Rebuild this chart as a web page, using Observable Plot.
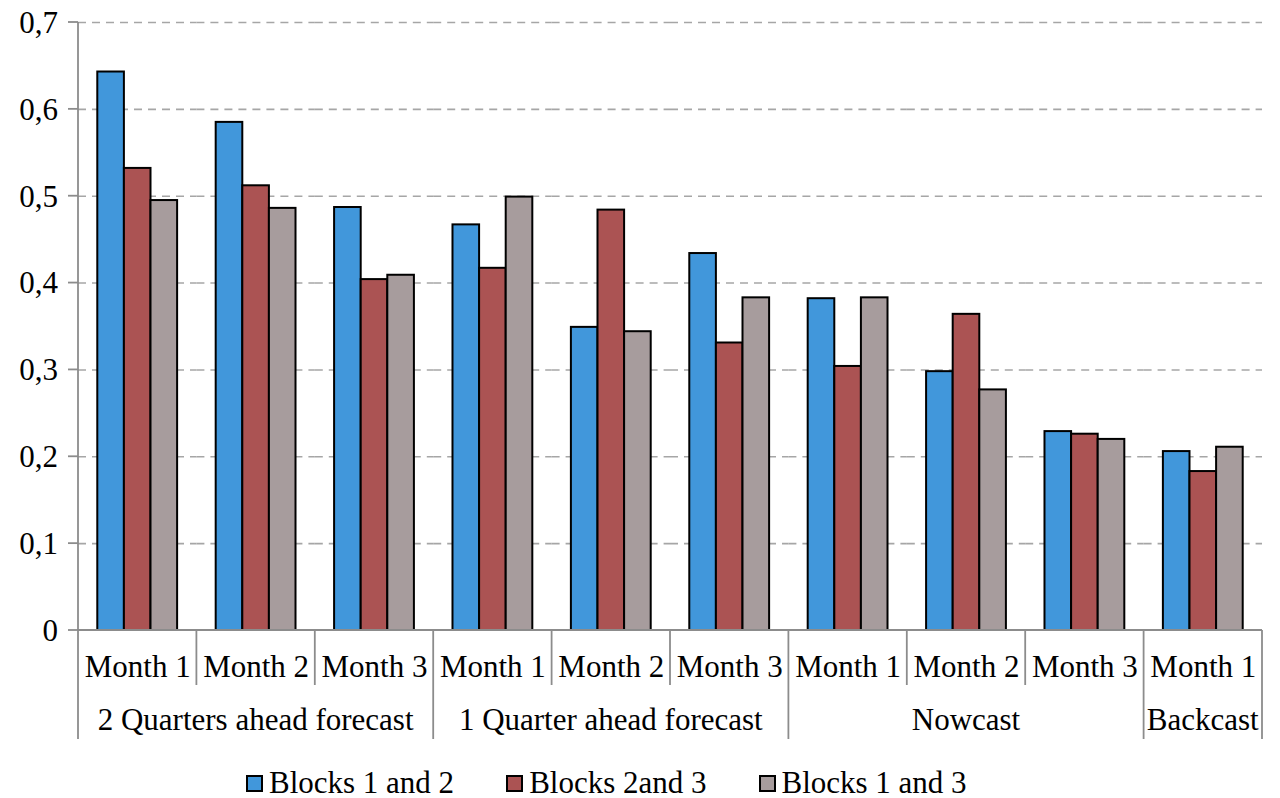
<!DOCTYPE html>
<html><head><meta charset="utf-8">
<script src="https://cdn.jsdelivr.net/npm/d3@7"></script>
<script src="https://cdn.jsdelivr.net/npm/@observablehq/plot@0.6"></script>
<style>
html,body{margin:0;padding:0;background:#fff;}
body{font-family:"Liberation Serif",serif;position:relative;width:1280px;height:798px;overflow:hidden;}
#legend{position:absolute;left:246px;top:766px;display:flex;align-items:center;font-size:31px;color:#000;line-height:34px;}
.item{display:flex;align-items:center;margin-right:52px;}
.sw{width:13px;height:13px;border:2px solid #000;margin-right:6px;}
</style></head><body>
<div id="chart"></div>
<div id="legend"></div>
<script>
const groups = ["2 Quarters ahead forecast","2 Quarters ahead forecast","2 Quarters ahead forecast",
  "1 Quarter ahead forecast","1 Quarter ahead forecast","1 Quarter ahead forecast",
  "Nowcast","Nowcast","Nowcast","Backcast"];
const months = ["Month 1","Month 2","Month 3","Month 1","Month 2","Month 3","Month 1","Month 2","Month 3","Month 1"];
const series = ["Blocks 1 and 2","Blocks 2and 3","Blocks 1 and 3"];
const blocks12 = [0.643,0.585,0.487,0.467,0.349,0.434,0.382,0.298,0.229,0.206];
const blocks23 = [0.532,0.512,0.404,0.417,0.484,0.331,0.304,0.364,0.226,0.183];
const blocks13 = [0.495,0.486,0.409,0.499,0.344,0.383,0.383,0.277,0.220,0.211];
const yTicks = [0,0.1,0.2,0.3,0.4,0.5,0.6,0.7];
const colors = ["#4197db","#ab5353","#a79c9d"];

const slots = months.map((m,i)=>i);
const seriesValues = [blocks12, blocks23, blocks13];
const rows = [];
slots.forEach(i => series.forEach((s,k) => rows.push({slot:i, group:groups[i], month:months[i], series:s, value:seriesValues[k][i]})));
const fmt = d => d === 0 ? "0" : d.toFixed(1).replace(".", ",");

const chart = Plot.plot({
  width:1280, height:762,
  marginLeft:78, marginRight:18, marginTop:22, marginBottom:132,
  style:{fontFamily:"Liberation Serif, serif", fontSize:"31px", color:"#000", background:"#fff", overflow:"visible"},
  fx:{domain:slots, paddingInner:0, paddingOuter:0, round:false, axis:null, label:null},
  x:{domain:series, paddingInner:0, paddingOuter:0.725, round:false, axis:null, label:null},
  y:{domain:[0,0.7], axis:null, label:null},
  color:{domain:series, range:colors},
  marks:[
    Plot.ruleY(yTicks.filter(d=>d>0), {stroke:"#a6a6a6", strokeWidth:1.6, strokeDasharray:"8,6"}),
    Plot.barY(rows, {fx:"slot", x:"series", y:"value", fill:"series", stroke:"#000", strokeWidth:2}),
    Plot.text(slots, {fx:d=>d, text:d=>months[d], frameAnchor:"bottom", lineAnchor:"middle", dy:37, fontSize:31, fill:"#000"})
  ]
});
document.getElementById("chart").appendChild(chart);

// axes, separators and group labels placed with the plot's own scales
const svg = d3.select(chart);
const fx = chart.scale("fx"), y = chart.scale("y");
const bw = fx.bandwidth;
const y0 = y.apply(0), yTop = y.apply(0.7);
const left = fx.apply(slots[0]), right = fx.apply(slots[slots.length-1]) + bw;
const g = svg.append("g").attr("stroke","#8c8c8c").attr("stroke-width",1.8);
g.append("line").attr("x1",left).attr("x2",left).attr("y1",yTop).attr("y2",y0);
yTicks.forEach(t => g.append("line").attr("x1",left-10).attr("x2",left).attr("y1",y.apply(t)).attr("y2",y.apply(t)));
g.append("line").attr("x1",left).attr("x2",right).attr("y1",y0).attr("y2",y0);
const yt = svg.append("g").attr("font-family","Liberation Serif, serif").attr("font-size",31).attr("text-anchor","end").attr("fill","#000");
yTicks.forEach(t => yt.append("text").attr("x",left-20).attr("y",y.apply(t)).attr("dy","0.35em").text(fmt(t)));
// separators
slots.forEach(i => {
  const x = fx.apply(i);
  const isGroupStart = i === 0 || groups[i] !== groups[i-1];
  g.append("line").attr("x1",x).attr("x2",x).attr("y1",y0).attr("y2", y0 + (isGroupStart ? 109 : 55));
});
g.append("line").attr("x1",right).attr("x2",right).attr("y1",y0).attr("y2",y0+109);
// group labels
const gl = svg.append("g").attr("font-family","Liberation Serif, serif").attr("font-size",31).attr("text-anchor","middle").attr("fill","#000");
const uniq = [...new Set(groups)];
uniq.forEach(name => {
  const idx = slots.filter(i => groups[i] === name);
  const cx = (fx.apply(idx[0]) + fx.apply(idx[idx.length-1]) + bw) / 2;
  gl.append("text").attr("x",cx).attr("y",y0+100).text(name);
});

// legend
const lg = d3.select("#legend");
series.forEach((s,k) => {
  const it = lg.append("div").attr("class","item");
  it.append("div").attr("class","sw").style("background",colors[k]);
  it.append("span").text(s);
});
</script>
</body></html>
